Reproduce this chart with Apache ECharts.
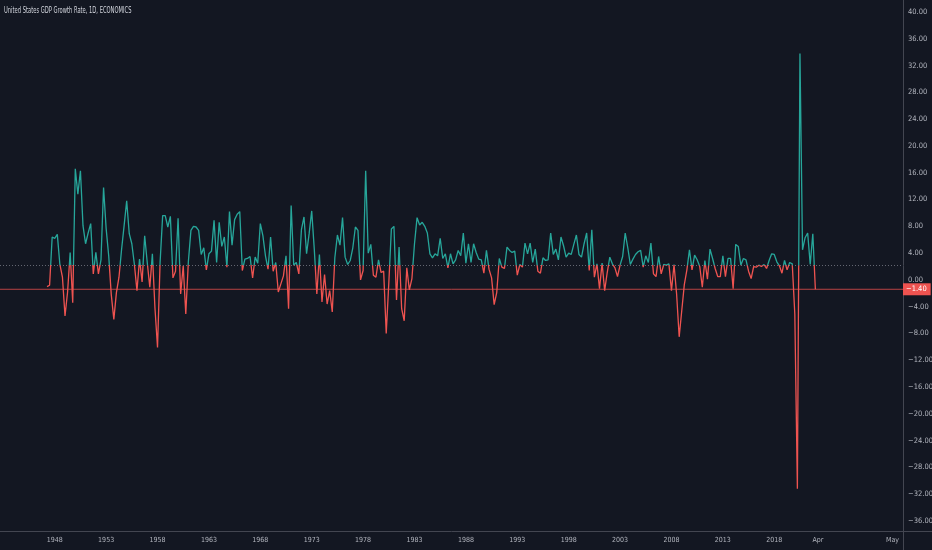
<!DOCTYPE html>
<html>
<head>
<meta charset="utf-8">
<script src="https://cdn.jsdelivr.net/npm/echarts@6/dist/echarts.min.js"></script>
<style>
  html, body { margin: 0; padding: 0; background: #131722; }
  #chart { width: 932px; height: 550px; }
</style>
</head>
<body>
<div id="chart"></div>
<script>
// US real GDP growth, quarterly, annualised %, 1947 Q2 .. 2022 Q1
const firstYear = 1947
const firstQuarter = 2
const gdpGrowth = [
  -1.0, -0.8, 6.4,            // 1947
  6.2, 6.8, 2.3, 0.4,         // 1948
  -5.4, -1.8, 4.1, -3.4,      // 1949
  16.6, 12.8, 16.3, 8.1,      // 1950
  5.4, 7.0, 8.4, 0.9,         // 1951
  4.1, 0.9, 3.0, 13.8,        // 1952
  7.7, 3.6, -2.2, -5.9,       // 1953
  -1.9, 0.4, 4.5, 8.1,        // 1954
  11.8, 6.9, 5.4, 2.3,        // 1955
  -1.6, 3.1, -0.3, 6.6,       // 1956
  2.6, -1.1, 3.9, -4.2,       // 1957
  -10.1, 2.6, 9.6, 9.6,       // 1958
  7.9, 9.5, 0.3, 1.3,         // 1959
  9.2, -2.1, 2.1, -5.1,       // 1960
  2.7, 7.4, 8.0, 7.9,         // 1961
  7.4, 3.8, 4.8, 1.5,         // 1962
  3.9, 4.3, 8.9, 2.6,         // 1963
  8.6, 5.0, 6.4, 1.9,         // 1964
  10.2, 5.2, 9.0, 9.8,        // 1965
  10.2, 1.4, 3.1, 3.2,        // 1966
  3.5, 0.3, 3.4, 2.5,         // 1967
  8.4, 6.6, 3.6, 1.6,         // 1968
  6.4, 1.3, 2.6, -1.8,        // 1969
  -0.6, 0.6, 3.6, -4.3,       // 1970
  11.1, 2.2, 2.6, 0.9,        // 1971
  7.5, 9.4, 3.9, 6.9,         // 1972
  10.3, 4.6, -2.1, 3.8,       // 1973
  -3.3, 0.8, -3.6, -1.6,      // 1974
  -4.8, 3.3, 6.7, 5.2,        // 1975
  9.3, 3.4, 2.3, 2.9,         // 1976
  4.8, 7.9, 7.4, 0.0,         // 1977
  1.4, 16.3, 4.0, 5.3,        // 1978
  0.7, 0.4, 3.0, 1.1,         // 1979
  1.3, -8.0, -0.5, 7.6,       // 1980
  8.0, -3.0, 4.9, -4.3,       // 1981
  -6.1, 1.8, -1.5, 0.2,       // 1982
  5.4, 9.3, 8.2, 8.6,         // 1983
  8.0, 7.0, 3.9, 3.3,         // 1984
  3.9, 3.6, 6.2, 3.2,         // 1985
  3.9, 1.8, 3.9, 2.4,         // 1986
  3.0, 4.4, 3.6, 7.0,         // 1987
  2.5, 5.4, 2.6, 5.4,         // 1988
  4.1, 3.1, 3.0, 1.0,         // 1989
  4.4, 1.6, 0.3, -3.7,        // 1990
  -1.9, 3.2, 1.9, 1.7,        // 1991
  4.9, 4.4, 4.1, 4.3,         // 1992
  0.7, 2.3, 1.9, 5.5,         // 1993
  3.9, 5.5, 2.6, 4.6,         // 1994
  1.3, 1.0, 3.3, 2.9,         // 1995
  3.0, 7.0, 3.8, 4.6,         // 1996
  3.0, 6.4, 5.1, 3.4,         // 1997
  4.0, 3.8, 5.3, 6.7,         // 1998
  3.8, 3.4, 5.4, 7.0,         // 1999
  1.4, 7.5, 0.4, 2.4,         // 2000
  -1.3, 2.5, -1.6, 1.1,       // 2001
  3.4, 2.4, 1.8, 0.5,         // 2002
  2.2, 3.5, 7.0, 4.8,         // 2003
  2.3, 3.1, 3.8, 4.2,         // 2004
  4.4, 1.9, 3.6, 2.6,         // 2005
  5.5, 0.9, 0.5, 3.5,         // 2006
  0.9, 2.3, 2.2, 2.4,         // 2007
  -1.6, 2.3, -2.1, -8.5,      // 2008
  -4.6, -0.7, 1.5, 4.5,       // 2009
  1.5, 3.7, 3.0, 2.0,         // 2010
  -1.1, 2.9, 0.1, 4.6,        // 2011
  3.2, 1.7, 0.5, 0.5,         // 2012
  3.6, 0.5, 3.2, 3.2,         // 2013
  -1.3, 5.3, 5.0, 2.2,        // 2014
  3.2, 3.0, 1.3, 0.2,         // 2015
  2.0, 1.9, 2.2, 2.0,         // 2016
  2.3, 1.7, 2.9, 3.9,         // 2017
  3.8, 2.7, 2.1, 1.0,         // 2018
  2.9, 1.5, 2.6, 2.4,         // 2019
  -5.1, -31.2, 33.8, 4.5,     // 2020
  6.3, 7.0, 2.3, 6.9,         // 2021
  -1.4                        // 2022
]

// price scale ticks
const yTicks = [40, 36, 32, 28, 24, 20, 16, 12, 8, 4, 0, -4, -8, -12, -16, -20, -24, -28, -32, -36]
// time scale labels: years at their first quarter, then the daily future space
const xYearLabels = ['1948', '1953', '1958', '1963', '1968', '1973', '1978', '1983', '1988', '1993', '1998', '2003', '2008', '2013', '2018']
const xFutureLabels = ['Apr', 'May']
const xFutureOffsets = [1, 30]

const chartTitle = 'United States GDP Growth Rate, 1D, ECONOMICS'

const yMin = -37.5
const yMax = 41.8
const xMin = -18.3
const xMax = 333.1
const baseLevel = (yMin + yMax) / 2   // baseline sits in the middle of the scale

// quarter names for each bar
const quarters = []
for (let i = 0; i < gdpGrowth.length; i++) {
  const q = firstQuarter - 1 + i
  quarters.push((firstYear + Math.floor(q / 4)) + ' Q' + (q % 4 + 1))
}

const lastIndex = gdpGrowth.length - 1
const lastValue = gdpGrowth[lastIndex]

// tick position -> label text
const xTickText = {}
xYearLabels.forEach(function (y) { xTickText[quarters.indexOf(y + ' Q1')] = y })
xFutureLabels.forEach(function (l, k) { xTickText[lastIndex + xFutureOffsets[k]] = l })
const xTickPos = Object.keys(xTickText).map(Number)

const seriesData = gdpGrowth.map(function (v, i) { return [i, v] })

const fmt = function (v) {
  const s = Math.abs(v).toFixed(2)
  return v < 0 ? '\u2212' + s : s
}

const font = "'Liberation Sans Narrow', 'DejaVu Sans Condensed', 'Liberation Sans', sans-serif"
const axisColor = '#434651'
const labelColor = '#b2b5be'
const upColor = '#26a69a'
const downColor = '#ef5350'

const chart = echarts.init(document.getElementById('chart'))
chart.setOption({
  backgroundColor: '#131722',
  animation: false,
  textStyle: { fontFamily: font },
  grid: { left: 0, right: 29, top: 0, bottom: 19, outerBoundsMode: 'none', containLabel: false },
  xAxis: {
    type: 'value',
    min: xMin,
    max: xMax,
    splitLine: { show: false },
    axisTick: { show: false },
    axisLine: { show: true, onZero: false, lineStyle: { color: axisColor, width: 1 } },
    axisLabel: {
      customValues: xTickPos,
      color: labelColor,
      fontSize: 7,
      margin: 6,
      formatter: function (v) { return xTickText[v] || '' }
    }
  },
  yAxis: {
    type: 'value',
    position: 'right',
    min: yMin,
    max: yMax,
    splitLine: { show: false },
    axisTick: { show: false },
    axisLine: { show: true, onZero: false, lineStyle: { color: axisColor, width: 1 } },
    axisLabel: {
      customValues: yTicks,
      color: labelColor,
      fontSize: 7.5,
      margin: 5,
      formatter: fmt
    }
  },
  graphic: [
    // legend-style title, narrow like the TradingView header
    {
      type: 'text', silent: true, x: 4, y: 7, scaleX: 0.72,
      style: { text: chartTitle, fill: '#d1d4dc', fontSize: 8, fontFamily: font, verticalAlign: 'top' }
    },
    { type: 'line', silent: true, shape: { x1: 903.5, y1: 531, x2: 903.5, y2: 550 }, style: { stroke: axisColor, lineWidth: 1 } },
    { type: 'line', silent: true, shape: { x1: 903, y1: 531.5, x2: 932, y2: 531.5 }, style: { stroke: axisColor, lineWidth: 1 } }
  ],
  series: [
    {
      name: 'GDP Growth Rate',
      type: 'line',
      data: seriesData,
      showSymbol: false,
      z: 3,
      lineStyle: { width: 1.3, color: upColor },
      markLine: {
        silent: true,
        symbol: 'none',
        animation: false,
        lineStyle: { color: '#787b86', type: [1, 2], width: 1, opacity: 0.8 },
        label: { show: false },
        data: [{ yAxis: baseLevel }]
      }
    },
    {
      // last value price line, drawn as a flat line across the whole x range
      name: 'last',
      type: 'line',
      data: [[xMin, lastValue], [xMax, lastValue]],
      showSymbol: false,
      silent: true,
      z: 2,
      color: downColor,
      lineStyle: { color: downColor, width: 1, opacity: 0.75 },
      endLabel: {
        show: true,
        distance: 0,
        formatter: function () { return fmt(lastValue) },
        backgroundColor: downColor,
        color: '#ffffff',
        fontSize: 7.5,
        fontFamily: font,
        padding: [2, 4, 2, 3]
      }
    }
  ]
})

// baseline colouring: teal above the base level, red below it
const baseY = chart.convertToPixel({ yAxisIndex: 0 }, baseLevel)
const h = chart.getHeight()
const cut = baseY / h
chart.setOption({
  series: [{
    lineStyle: {
      color: new echarts.graphic.LinearGradient(0, 0, 0, h, [
        { offset: 0, color: upColor },
        { offset: cut, color: upColor },
        { offset: cut, color: downColor },
        { offset: 1, color: downColor }
      ], true)
    }
  }]
})
</script>
</body>
</html>
